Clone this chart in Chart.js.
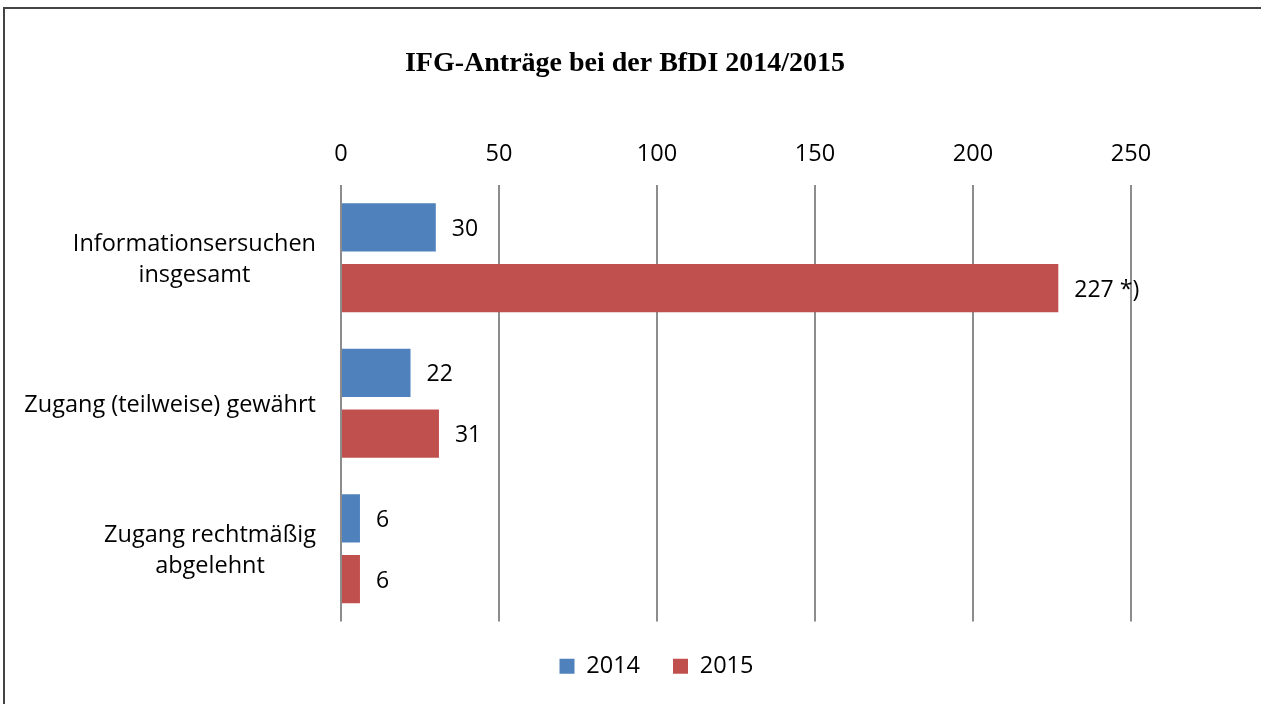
<!DOCTYPE html>
<html>
<head>
<meta charset="utf-8">
<script src="https://cdn.jsdelivr.net/npm/chart.js@4"></script>
<style>
    html, body { margin: 0; padding: 0; background: #fff; overflow: hidden; }
    #frame { position: absolute; left: 3px; top: 7px; width: 2000px; height: 2000px; border: 2px solid #444; }
    #myChart { position: absolute; left: 0; top: 0; }
</style>
</head>
<body>
<div id="frame"></div>
<canvas id="myChart" width="1261" height="704"></canvas>
<script>
const categories = [['Informationsersuchen', 'insgesamt'], 'Zugang (teilweise) gewährt', ['Zugang rechtmäßig', 'abgelehnt']];
const values2014 = [30, 22, 6];
const values2015 = [227, 31, 6];
const labels2014 = ['30', '22', '6'];
const labels2015 = ['227 *)', '31', '6'];
const xTicks = [0, 50, 100, 150, 200, 250];
const chartTitle = 'IFG-Anträge bei der BfDI 2014/2015';

const FONT = 'Open Sans';
const ctx = document.getElementById('myChart').getContext('2d');

// value labels right of each bar
const barLabels = {
    id: 'barLabels',
    afterDatasetsDraw(chart) {
        const c = chart.ctx;
        const texts = [labels2014, labels2015];
        c.save();
        c.font = '23px ' + FONT;
        c.fillStyle = '#000';
        c.textAlign = 'left';
        c.textBaseline = 'middle';
        chart.data.datasets.forEach((ds, i) => {
            chart.getDatasetMeta(i).data.forEach((bar, j) => {
                c.fillText(texts[i][j], bar.x + 16, bar.y + 2);
            });
        });
        c.restore();
    }
};

// category labels (each line centred on the block, block right aligned) and title
const extraText = {
    id: 'extraText',
    afterDraw(chart) {
        const c = chart.ctx;
        const y = chart.scales.y;
        const right = chart.chartArea.left - 25;
        const lh = 31;
        c.save();
        c.font = '23.5px ' + FONT;
        c.fillStyle = '#000';
        c.textAlign = 'center';
        c.textBaseline = 'middle';
        categories.forEach((cat, i) => {
            const lines = Array.isArray(cat) ? cat : [cat];
            const w = Math.max(...lines.map(l => c.measureText(l).width));
            const cx = right - w / 2;
            const cy = y.getPixelForValue(i) + 2;
            lines.forEach((l, k) => {
                c.fillText(l, cx, cy + (k - (lines.length - 1) / 2) * lh);
            });
        });
        c.font = 'bold 28px "Liberation Serif"';
        c.fillText(chartTitle, 625, 64);
        c.restore();
    }
};

new Chart(ctx, {
    type: 'bar',
    data: {
        labels: categories,
        datasets: [
            { label: '2014', data: values2014, backgroundColor: '#4F81BD', yAxisID: 'y' },
            { label: '2015', data: values2015, backgroundColor: '#C0504D', yAxisID: 'y' }
        ]
    },
    options: {
        indexAxis: 'y',
        responsive: false,
        animation: false,
        devicePixelRatio: 1,
        categoryPercentage: 0.833,
        barPercentage: 0.795,
        layout: { padding: { left: 52, right: 0, top: 0, bottom: 16 } },
        scales: {
            x: {
                position: 'top',
                min: 0,
                max: 250,
                afterBuildTicks(scale) { scale.ticks = xTicks.map(v => ({ value: v })); },
                afterFit(scale) { scale.height = 185; },
                border: { display: false },
                grid: { color: '#8c8c8c', lineWidth: 2, drawTicks: false },
                ticks: { color: '#000', padding: 16.6, font: { family: FONT, size: 23.5 } }
            },
            y: {
                position: 'left',
                afterFit(scale) { scale.width = 289; },
                border: { display: false },
                grid: { display: false },
                ticks: { display: false }
            },
            yRight: {
                type: 'category',
                position: 'right',
                afterFit(scale) { scale.width = 130; },
                border: { display: false },
                grid: { display: false },
                ticks: { display: false }
            }
        },
        plugins: {
            title: { display: false },
            legend: {
                position: 'bottom',
                labels: {
                    color: '#000',
                    boxWidth: 15,
                    boxHeight: 15,
                    padding: 33,
                    font: { family: FONT, size: 23.5 }
                }
            },
            tooltip: { enabled: false }
        }
    },
    plugins: [barLabels, extraText]
});
</script>
</body>
</html>
